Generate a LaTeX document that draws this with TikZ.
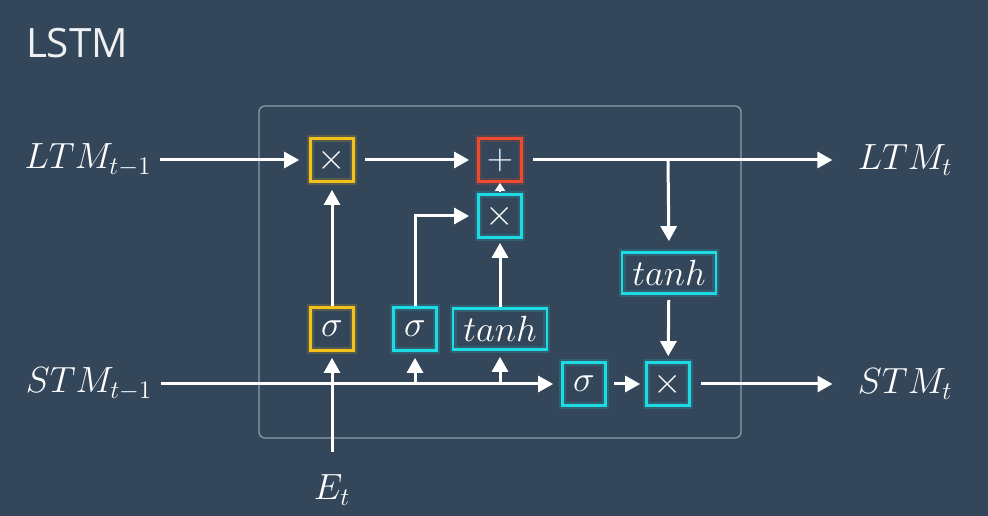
\documentclass[tikz,border=0pt]{standalone}
\usepackage{amsmath}
\usepackage{fontspec}
\newfontfamily\titlefont{Open Sans}
\usetikzlibrary{arrows.meta}
\definecolor{bgblue}{HTML}{34465A}
\definecolor{framegray}{HTML}{8CA0B0}
\definecolor{gateyellow}{HTML}{F2C21B}
\definecolor{gatered}{HTML}{F04A2E}
\definecolor{gatecyan}{HTML}{1DDBE3}

\begin{document}
\begin{tikzpicture}[x=0.02cm,y=-0.02cm,line width=0.06cm,white,
  >={Triangle[length=0.3cm,width=0.32cm]},
  gate/.style={draw=#1,line width=0.055cm,minimum size=0.86cm,inner sep=0pt,
    font=\fontsize{21}{24}\selectfont,text=white,
    preaction={draw=#1,line width=0.14cm,opacity=0.18}},
  lab/.style={font=\fontsize{21}{24}\selectfont,text=white}]
\fill[bgblue] (0,0) rectangle (988,516);
\node[font=\titlefont\fontsize{23}{28}\selectfont,text=white!92!bgblue] (title) at (77,43) {LSTM};
\draw[framegray,line width=0.025cm,rounded corners=0.12cm] (259,106) rectangle (741,438);
% gates
\node[gate=gateyellow] (forget) at (332,160) {$\times$};
\node[gate=gatered] (add) at (500,160) {$+$};
\node[gate=gatecyan] (learn) at (500,216) {$\times$};
\node[gate=gatecyan,minimum width=1.88cm,minimum height=0.82cm] (tanhout) at (669,273) {$tanh$};
\node[gate=gateyellow] (sigf) at (332,329) {$\sigma$};
\node[gate=gatecyan] (sigi) at (415,329) {$\sigma$};
\node[gate=gatecyan,minimum width=1.88cm,minimum height=0.82cm] (tanhin) at (500,329) {$tanh$};
\node[gate=gatecyan] (sigo) at (584,384) {$\sigma$};
\node[gate=gatecyan] (use) at (668,384) {$\times$};
% labels
\node[lab] (ltmin) at (88,160) {$LTM_{t-1}$};
\node[lab] (ltmout) at (905,160) {$LTM_t$};
\node[lab] (stmin) at (89,384) {$STM_{t-1}$};
\node[lab] (stmout) at (905,384) {$STM_t$};
\node[lab] (et) at (332,490) {$E_t$};
\coordinate (ltmsplit) at (668,160);
\coordinate (isplit) at (415,384);
\coordinate (tsplit) at (500,384);
% long term memory
\draw[->,shorten <=0.02cm,shorten >=0.2cm] (ltmin) -- (forget);
\draw[->,shorten <=0.2cm,shorten >=0.16cm] (forget) -- (add);
\draw[->,shorten <=0.2cm,shorten >=0.36cm] (add) -- (ltmout);
\draw[->,shorten >=0.2cm] (ltmsplit) -- (tanhout.north);
\draw[->,shorten <=0.1cm,shorten >=0.1cm] (tanhout) -- (use);
\draw[-{Triangle[length=0.16cm,width=0.2cm]},line width=0.04cm,shorten <=0.02cm] (learn) -- (add);
% short term memory
\draw[->,shorten <=0.02cm,shorten >=0.16cm] (stmin) -- (sigo);
\draw[->,shorten <=0.14cm,shorten >=0.1cm] (sigo) -- (use);
\draw[->,shorten <=0.2cm,shorten >=0.36cm] (use) -- (stmout);
\draw[->,shorten >=0.12cm] (isplit) -- (sigi);
\draw[->,shorten >=0.12cm] (tsplit) -- (tanhin);
\draw[->,shorten <=0.3cm,shorten >=0.12cm] (et) -- (sigf);
% gates to memory
\draw[->,shorten >=0.14cm] (sigf) -- (forget);
\draw[->,shorten >=0.16cm] (sigi.north) |- (learn.west);
\draw[->,shorten >=0.08cm] (tanhin) -- (learn);
\end{tikzpicture}
\end{document}
